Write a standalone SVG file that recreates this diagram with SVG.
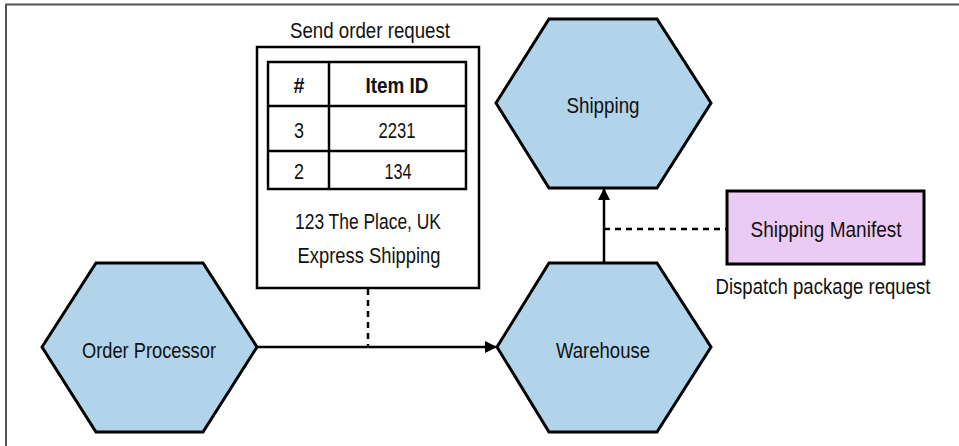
<svg xmlns="http://www.w3.org/2000/svg" width="959" height="446" viewBox="0 0 959 446">
<style>
.hex{fill:#b1d4ea;stroke:#000;stroke-width:3;stroke-linejoin:miter}
.box{fill:#fff;stroke:#000;stroke-width:2.5}
.man{fill:#ebcbf3;stroke:#000;stroke-width:3}
.t{font-family:"Liberation Sans",Arial,sans-serif;font-size:22px;fill:#111;text-anchor:middle}
.b{font-weight:bold}
.line{stroke:#000;stroke-width:2.5;fill:none}
.dash{stroke:#000;stroke-width:2.5;fill:none;stroke-dasharray:6 5}
</style>
<defs>
<marker id="ah" markerWidth="12" markerHeight="12" viewBox="0 0 12 12" refX="11" refY="6" orient="auto" markerUnits="userSpaceOnUse">
<path d="M0,0 L12,6 L0,12 z" fill="#000"/>
</marker>
</defs>
<rect width="959" height="446" fill="#fff"/>
<path d="M6,446 V4.5 H959" fill="none" stroke="#555" stroke-width="2"/>
<g id="connectors">
<line class="line" x1="257" y1="347" x2="496" y2="347" marker-end="url(#ah)"/>
<line class="dash" x1="368" y1="289" x2="368" y2="347"/>
<line class="line" x1="604" y1="263" x2="604" y2="189" marker-end="url(#ah)"/>
<line class="dash" x1="604" y1="229" x2="727" y2="229"/>
</g>
<g id="order-processor">
<polygon class="hex" points="42,347 96,263 203,263 257,347 203,432 96,432"/>
<text class="t" x="149" y="358" textLength="134" lengthAdjust="spacingAndGlyphs">Order Processor</text>
</g>
<g id="warehouse">
<polygon class="hex" points="497,347 549,263 657,263 711,347 657,432 549,432"/>
<text class="t" x="603" y="358" textLength="94" lengthAdjust="spacingAndGlyphs">Warehouse</text>
</g>
<g id="shipping">
<polygon class="hex" points="496,103 549,19 657,19 711,103 657,188 549,188"/>
<text class="t" x="603" y="113" textLength="73" lengthAdjust="spacingAndGlyphs">Shipping</text>
</g>
<g id="shipping-manifest">
<rect class="man" x="727" y="191" width="197" height="73"/>
<text class="t" x="826" y="237" textLength="151" lengthAdjust="spacingAndGlyphs">Shipping Manifest</text>
<text class="t" x="823" y="294" textLength="215" lengthAdjust="spacingAndGlyphs">Dispatch package request</text>
</g>
<g id="order-request">
<text class="t" x="370" y="38" textLength="160" lengthAdjust="spacingAndGlyphs">Send order request</text>
<rect class="box" x="257" y="47" width="222" height="241"/>
<rect class="box" x="268" y="62" width="198" height="127"/>
<line class="line" x1="329" y1="62" x2="329" y2="189"/>
<line class="line" x1="268" y1="106" x2="466" y2="106"/>
<line class="line" x1="268" y1="151" x2="466" y2="151"/>
<text class="t b" x="299" y="93" textLength="11" lengthAdjust="spacingAndGlyphs">#</text>
<text class="t b" x="397" y="93" textLength="63" lengthAdjust="spacingAndGlyphs">Item ID</text>
<text class="t" x="299" y="138" textLength="10" lengthAdjust="spacingAndGlyphs">3</text>
<text class="t" x="397" y="138" textLength="37" lengthAdjust="spacingAndGlyphs">2231</text>
<text class="t" x="299" y="179" textLength="10" lengthAdjust="spacingAndGlyphs">2</text>
<text class="t" x="398" y="179" textLength="27" lengthAdjust="spacingAndGlyphs">134</text>
<text class="t" x="368" y="229" textLength="146" lengthAdjust="spacingAndGlyphs">123 The Place, UK</text>
<text class="t" x="369" y="263" textLength="143" lengthAdjust="spacingAndGlyphs">Express Shipping</text>
</g>
</svg>
